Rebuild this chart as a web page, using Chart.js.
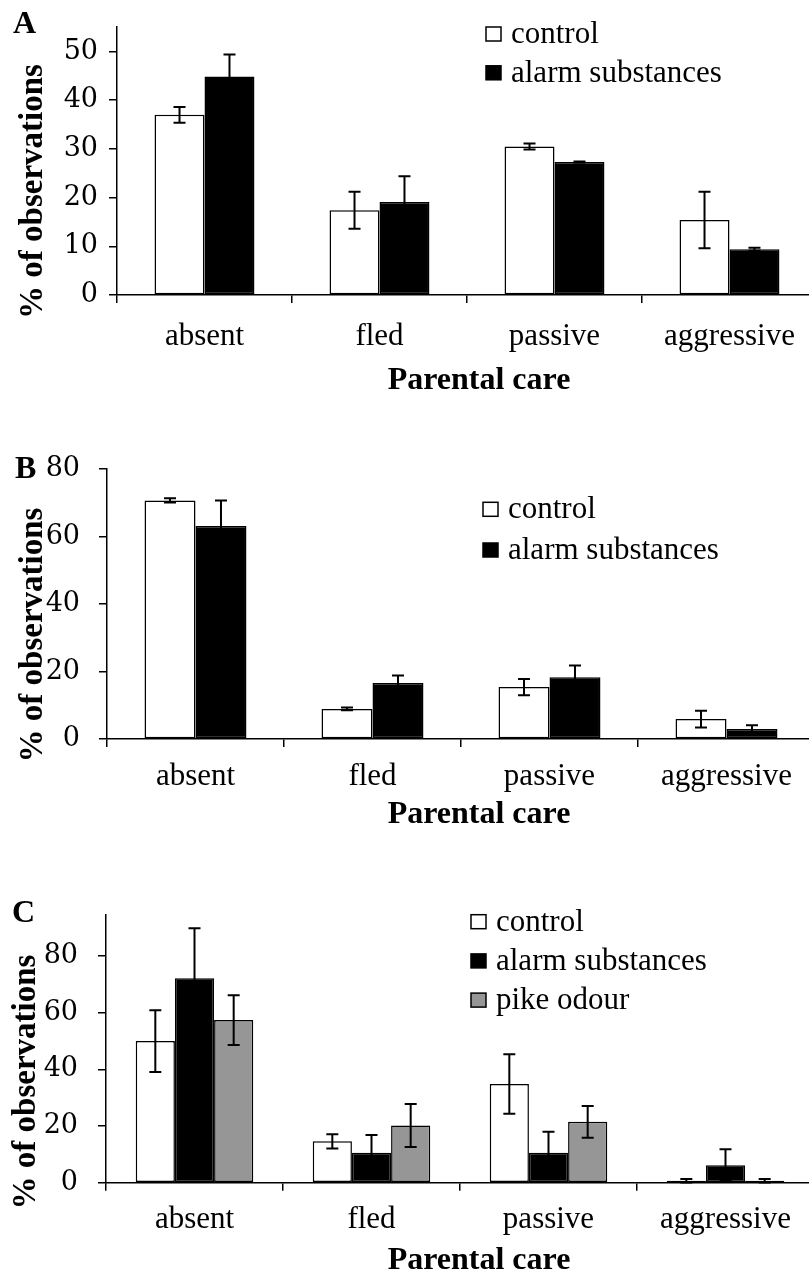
<!DOCTYPE html>
<html>
<head>
<meta charset="utf-8">
<script src="https://cdn.jsdelivr.net/npm/chart.js@4.4.1/dist/chart.umd.min.js"></script>
<style>
  html, body { margin: 0; padding: 0; background: #fff; overflow: hidden; width: 809px; height: 1273px; position: relative; }
  canvas { position: absolute; left: 0; }
</style>
</head>
<body>
<canvas id="chartA" width="830" height="410" style="top:0"></canvas>
<canvas id="chartB" width="830" height="420" style="top:410px"></canvas>
<canvas id="chartC" width="830" height="443" style="top:830px"></canvas>
<script>
// data (% of observations, mean and SE)
const categories = ["absent", "fled", "passive", "aggressive"];

const controlA = [37.0, 17.4, 30.5, 15.4];
const controlErrA = [1.6, 3.8, 0.6, 5.8];
const alarmA = [44.9, 19.1, 27.3, 9.4];
const alarmErrA = [4.5, 5.3, 0.1, 0.3];
const ticksA = [0, 10, 20, 30, 40, 50];

const controlB = [70.7, 8.9, 15.4, 5.9];
const controlErrB = [0.6, 0.4, 2.4, 2.5];
const alarmB = [63.1, 16.6, 18.3, 3.0];
const alarmErrB = [7.6, 2.2, 3.5, 1.1];
const ticksB = [0, 20, 40, 60, 80];

const controlC = [50.0, 14.6, 34.8, 0.7];
const controlErrC = [10.9, 2.5, 10.5, 0.6];
const alarmC = [72.2, 10.6, 10.6, 6.2];
const alarmErrC = [17.6, 6.2, 7.4, 5.6];
const pikeC = [57.4, 20.2, 21.5, 0.7];
const pikeErrC = [8.8, 7.6, 5.6, 0.6];
const ticksC = [0, 20, 40, 60, 80];

const FONT = "'Liberation Serif', 'Times New Roman', serif";
const NUM_FONT = "'DejaVu Serif', serif";

// error bars drawn from dataset.errors
const errorBars = {
  id: "errorBars",
  afterDatasetsDraw(chart) {
    const ctx = chart.ctx, y = chart.scales.y;
    chart.data.datasets.forEach((ds, i) => {
      chart.getDatasetMeta(i).data.forEach((bar, j) => {
        const v = ds.data[j], e = ds.errors[j];
        const top = y.getPixelForValue(v + e);
        const bot = y.getPixelForValue(Math.max(v - e, 0));
        ctx.save();
        ctx.strokeStyle = "#000";
        ctx.lineWidth = 2;
        ctx.beginPath();
        ctx.moveTo(bar.x, top); ctx.lineTo(bar.x, bot);
        ctx.moveTo(bar.x - 6, top); ctx.lineTo(bar.x + 6, top);
        ctx.moveTo(bar.x - 6, bot); ctx.lineTo(bar.x + 6, bot);
        ctx.stroke();
        ctx.restore();
      });
    });
  }
};

// panel letter, axis titles and legend
const panelText = {
  id: "panelText",
  afterDraw(chart, args, o) {
    const ctx = chart.ctx;
    ctx.save();
    ctx.fillStyle = "#000";
    ctx.font = "bold 32px " + FONT;
    ctx.textBaseline = "alphabetic";
    ctx.textAlign = "left";
    ctx.fillText(o.letter, o.letterX, o.letterY);
    ctx.textAlign = "center";
    ctx.fillText("Parental care", o.xTitleX, o.xTitleY);
    ctx.font = "bold 33px " + FONT;
    ctx.translate(o.yTitleX, o.yTitleY);
    ctx.rotate(-Math.PI / 2);
    ctx.fillText("% of observations", 0, 0);
    ctx.restore();

    ctx.save();
    ctx.font = "31px " + FONT;
    ctx.textAlign = "left";
    ctx.textBaseline = "alphabetic";
    chart.data.datasets.forEach((ds, i) => {
      const cy = o.legendY + i * o.legendGap;
      ctx.fillStyle = ds.backgroundColor;
      ctx.fillRect(o.legendX, cy - 7, 15, 14);
      ctx.strokeStyle = "#000";
      ctx.lineWidth = 1.5;
      ctx.strokeRect(o.legendX, cy - 7, 15, 14);
      ctx.fillStyle = "#000";
      ctx.fillText(ds.label, o.legendX + 25, cy + 9);
    });
    ctx.restore();
  }
};

function bars(label, data, errors, color) {
  return {
    label, data, errors,
    backgroundColor: color,
    borderColor: "#000",
    borderWidth: 1.5,
    borderSkipped: false
  };
}

function makePanel(id, p, datasets) {
  const canvas = document.getElementById(id);
  return new Chart(canvas, {
    type: "bar",
    data: { labels: categories, datasets },
    options: {
      responsive: false,
      animation: false,
      layout: { padding: { top: p.top, right: canvas.width - p.right, left: 0, bottom: 0 } },
      datasets: { bar: { categoryPercentage: p.catPct, barPercentage: 1 } },
      plugins: {
        legend: { display: false },
        tooltip: { enabled: false },
        panelText: p.text
      },
      scales: {
        x: {
          grid: { offset: true, drawOnChartArea: false, drawTicks: true, tickLength: 8, color: "#000", lineWidth: 1.5 },
          border: { color: "#000", width: 1.5 },
          ticks: { color: "#000", font: { family: FONT, size: 31 }, padding: p.xPad, maxRotation: 0 },
          afterFit(s) { s.height = canvas.height - p.bottom; }
        },
        y: {
          min: 0, max: p.max,
          afterBuildTicks(s) { s.ticks = p.ticks.map(v => ({ value: v })); },
          grid: { drawOnChartArea: false, drawTicks: true, tickLength: 8, color: "#000", lineWidth: 1.5 },
          border: { color: "#000", width: 1.5 },
          ticks: { color: "#000", font: { family: NUM_FONT, size: 27 }, padding: p.yPad },
          afterFit(s) { s.width = p.left; }
        }
      }
    },
    plugins: [errorBars, panelText]
  });
}

makePanel("chartA", {
  top: 26, bottom: 295, left: 117, right: 817, max: 55, ticks: ticksA,
  yPad: 11, xPad: 15, catPct: 0.571,
  text: { letter: "A", letterX: 13, letterY: 33, xTitleX: 479, xTitleY: 389, yTitleX: 41.5, yTitleY: 191.5,
          legendX: 486, legendY: 34, legendGap: 38.8 }
}, [
  bars("control", controlA, controlErrA, "#ffffff"),
  bars("alarm substances", alarmA, alarmErrA, "#000000")
]);

makePanel("chartB", {
  top: 59, bottom: 329, left: 107, right: 815, max: 80, ticks: ticksB,
  yPad: 19, xPad: 11, catPct: 0.576,
  text: { letter: "B", letterX: 15, letterY: 68, xTitleX: 479, xTitleY: 412.5, yTitleX: 41.7, yTitleY: 225,
          legendX: 483, legendY: 99.3, legendGap: 40.7 }
}, [
  bars("control", controlB, controlErrB, "#ffffff"),
  bars("alarm substances", alarmB, alarmErrB, "#000000")
]);

makePanel("chartC", {
  top: 85, bottom: 352.7, left: 106, right: 814, max: 94.5, ticks: ticksC,
  yPad: 20, xPad: 10.5, catPct: 0.664,
  text: { letter: "C", letterX: 12, letterY: 92, xTitleX: 479, xTitleY: 439, yTitleX: 35, yTitleY: 252,
          legendX: 471, legendY: 91.7, legendGap: 39.2 }
}, [
  bars("control", controlC, controlErrC, "#ffffff"),
  bars("alarm substances", alarmC, alarmErrC, "#000000"),
  bars("pike odour", pikeC, pikeErrC, "#969696")
]);
</script>
</body>
</html>
